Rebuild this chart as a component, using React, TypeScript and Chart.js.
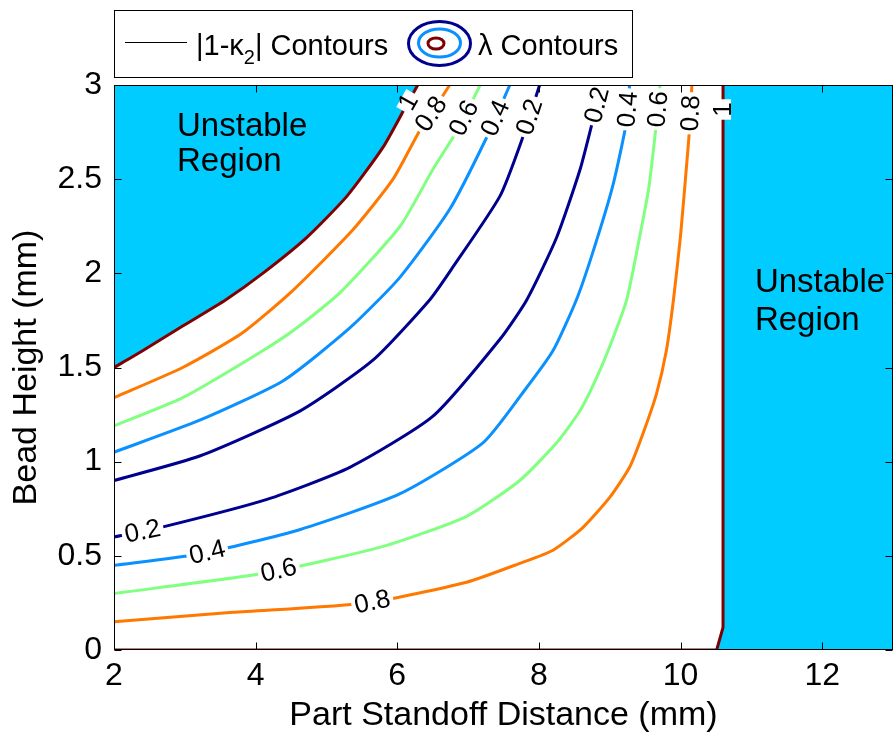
import { useEffect, useRef } from "react";
import { Chart, registerables } from "chart.js";

Chart.register(...registerables);

// ---------- data ----------
const xTickValues = [2, 4, 6, 8, 10, 12];
const yTickValues = [0, 0.5, 1, 1.5, 2, 2.5, 3];

// upper-left branch of each |1-k2| level
const upper10: number[][] = [[2, 1.5], [2.41, 1.59], [2.97, 1.72], [3.58, 1.86], [4.1, 2.0], [4.72, 2.19], [5.29, 2.41], [5.8, 2.67], [6.14, 2.9], [6.29, 3.0]];
const upper08: number[][] = [[2, 1.34], [2.97, 1.5], [3.8, 1.68], [4.5, 1.9], [5.37, 2.23], [5.94, 2.5], [6.32, 2.76], [6.5, 2.86], [6.74, 3.0]];
const upper06: number[][] = [[2, 1.19], [2.97, 1.34], [4.06, 1.58], [4.58, 1.71], [5.2, 1.9], [6.04, 2.25], [6.5, 2.55], [6.88, 2.78], [7.17, 3.0]];
const upper04: number[][] = [[2, 1.05], [3.21, 1.22], [4.39, 1.43], [5.33, 1.71], [6.04, 1.98], [6.74, 2.34], [7.26, 2.72], [7.59, 3.0]];
const upper02: number[][] = [[2, 0.9], [3.21, 1.03], [4.63, 1.27], [5.66, 1.54], [6.46, 1.86], [6.78, 2.03], [7.45, 2.41], [7.77, 2.72], [8.01, 3.0]];

// lower-right branch of each level
const lower02: number[][] = [[2, 0.6], [2.65, 0.65], [4.16, 0.8], [5.33, 0.97], [6.5, 1.24], [7.45, 1.65], [7.83, 1.86], [8.25, 2.19], [8.58, 2.55], [8.76, 2.81], [8.89, 3.0]];
const lower04: number[][] = [[2, 0.45], [3.21, 0.51], [4.63, 0.64], [6.04, 0.83], [7.21, 1.1], [7.78, 1.37], [8.2, 1.59], [8.53, 1.86], [8.76, 2.11], [9.04, 2.46], [9.24, 2.81], [9.28, 3.0]];
const lower06: number[][] = [[2, 0.3], [4.16, 0.41], [5.8, 0.55], [6.98, 0.71], [7.73, 0.9], [8.25, 1.1], [8.58, 1.27], [8.82, 1.45], [9.04, 1.65], [9.24, 1.86], [9.4, 2.15], [9.55, 2.45], [9.66, 2.8], [9.71, 3.0]];
const lower08: number[][] = [[2, 0.15], [3.68, 0.2], [5.57, 0.25], [6.98, 0.36], [7.73, 0.46], [8.2, 0.53], [8.62, 0.65], [9.0, 0.81], [9.28, 0.97], [9.47, 1.15], [9.66, 1.36], [9.8, 1.59], [9.9, 1.86], [10.0, 2.2], [10.08, 2.55], [10.13, 2.78], [10.16, 3.0]];
const lower10: number[][] = [[2, 0], [10.51, 0], [10.6, 0.12], [10.6, 3.0]];

// right unstable region outline
const rightRegion: number[][] = [[10.51, 0], [10.6, 0.12], [10.6, 3.0], [13, 3.0]];

// contour labels
const labelCurves = ["upper10", "upper08", "upper06", "upper04", "upper02", "lower02", "lower04", "lower06", "lower08", "lower10", "lower02", "lower04", "lower06", "lower08"];
const labelX = [6.18, 6.5, 6.91, 7.35, 7.87, 8.86, 9.28, 9.73, 10.13, 10.6, 2.41, 3.31, 4.34, 5.64];
const labelY = [2.905, 2.84, 2.83, 2.83, 2.83, 2.89, 2.87, 2.87, 2.85, 2.87, 0.62, 0.53, 0.4, 0.27];
const labelText = ["1", "0.8", "0.6", "0.4", "0.2", "0.2", "0.4", "0.6", "0.8", "1", "0.2", "0.4", "0.6", "0.8"];

// region annotations
const regionText = ["Unstable", "Region"];
const leftRegionAt = [2.89, 2.78, 2.59];
const rightRegionAt = [11.05, 1.95, 1.75];

// ---------- styles ----------
const FONT = '"Liberation Sans", Arial, Helvetica, sans-serif';
const CYAN = "#00CCFF";
const TENSION = 0.2;
const colors: Record<string, string> = {
  "10": "#7F0000",
  "08": "#FF7800",
  "06": "#80FF80",
  "04": "#0A90FF",
  "02": "#00008F",
};

const curves: Record<string, number[][]> = { upper10, upper08, upper06, upper04, upper02, lower02, lower04, lower06, lower08, lower10 };

const toXY = (pts: number[][]) => pts.map(([x, y]) => ({ x, y }));

function lineDataset(name: string) {
  const key = name.slice(5);
  return {
    label: name,
    data: toXY(curves[name]),
    showLine: true,
    borderColor: colors[key],
    borderWidth: 3,
    pointRadius: 0,
    fill: false,
    tension: name === "lower10" ? 0 : TENSION,
    clip: 0,
  };
}

const contourLabelPlugin = {
  id: "contourLabels",
  afterDatasetsDraw(chart: any) {
    const { ctx, scales } = chart;
    const xs = scales.x, ys = scales.y;
    ctx.save();
    ctx.font = `26px ${FONT}`;
    for (let i = 0; i < labelText.length; i++) {
      const pts = curves[labelCurves[i]].map(([a, b]) => [xs.getPixelForValue(a), ys.getPixelForValue(b)]);
      const px = xs.getPixelForValue(labelX[i]);
      const py = ys.getPixelForValue(labelY[i]);
      let best = Infinity, bx = px, by = py, ang = 0;
      for (let k = 0; k < pts.length - 1; k++) {
        const [x1, y1] = pts[k], [x2, y2] = pts[k + 1];
        const dx = x2 - x1, dy = y2 - y1;
        const len2 = dx * dx + dy * dy || 1;
        let t = ((px - x1) * dx + (py - y1) * dy) / len2;
        t = Math.max(0, Math.min(1, t));
        const qx = x1 + t * dx, qy = y1 + t * dy;
        const d = (qx - px) ** 2 + (qy - py) ** 2;
        if (d < best) { best = d; bx = qx; by = qy; ang = Math.atan2(dy, dx); }
      }
      if (ang > Math.PI / 2) ang -= Math.PI;
      if (ang < -Math.PI / 2) ang += Math.PI;
      const w = ctx.measureText(labelText[i]).width;
      ctx.save();
      ctx.translate(bx, by);
      ctx.rotate(ang);
      ctx.fillStyle = "#fff";
      ctx.fillRect(-w / 2 - 3, -8, w + 6, 16);
      ctx.fillStyle = "#000";
      ctx.textAlign = "center";
      ctx.textBaseline = "middle";
      ctx.fillText(labelText[i], 0, 1);
      ctx.restore();
    }
    ctx.restore();
  },
};

const regionTextPlugin = {
  id: "regionText",
  afterDatasetsDraw(chart: any) {
    const { ctx, scales } = chart;
    ctx.save();
    ctx.font = `33px ${FONT}`;
    ctx.fillStyle = "#000";
    ctx.textAlign = "left";
    ctx.textBaseline = "middle";
    for (const at of [leftRegionAt, rightRegionAt]) {
      const x = scales.x.getPixelForValue(at[0]);
      ctx.fillText(regionText[0], x, scales.y.getPixelForValue(at[1]));
      ctx.fillText(regionText[1], x, scales.y.getPixelForValue(at[2]));
    }
    ctx.restore();
  },
};

const axesBoxPlugin = {
  id: "axesBox",
  afterDraw(chart: any) {
    const { ctx, chartArea: a, scales } = chart;
    ctx.save();
    ctx.strokeStyle = "#000";
    ctx.lineWidth = 1;
    const L = Math.round(a.left) + 0.5, R = Math.round(a.right) - 0.5;
    const T = Math.round(a.top) + 0.5, B = Math.round(a.bottom) - 0.5;
    ctx.strokeRect(L, T, R - L, B - T);
    const tl = 7;
    ctx.beginPath();
    for (const v of xTickValues) {
      const px = Math.round(scales.x.getPixelForValue(v)) + 0.5;
      ctx.moveTo(px, B); ctx.lineTo(px, B - tl);
      ctx.moveTo(px, T); ctx.lineTo(px, T + tl);
    }
    for (const v of yTickValues) {
      const py = Math.round(scales.y.getPixelForValue(v)) + 0.5;
      ctx.moveTo(L, py); ctx.lineTo(L + tl, py);
      ctx.moveTo(R, py); ctx.lineTo(R - tl, py);
    }
    ctx.stroke();

    // legend
    ctx.fillStyle = "#fff";
    ctx.fillRect(114, 10, 518, 67);
    ctx.strokeRect(114.5, 10.5, 518, 67);
    ctx.beginPath();
    ctx.moveTo(125, 42.5);
    ctx.lineTo(187, 42.5);
    ctx.stroke();
    ctx.fillStyle = "#000";
    ctx.textBaseline = "alphabetic";
    ctx.textAlign = "left";
    let xx = 196;
    ctx.font = `29px ${FONT}`;
    ctx.fillText("|1-κ", xx, 55);
    xx += ctx.measureText("|1-κ").width;
    ctx.font = `20px ${FONT}`;
    ctx.fillText("2", xx, 64);
    xx += ctx.measureText("2").width;
    ctx.font = `29px ${FONT}`;
    ctx.fillText("| Contours", xx, 55);
    const ell = (cx: number, cy: number, rx: number, ry: number, c: string) => {
      ctx.beginPath();
      ctx.ellipse(cx, cy, rx, ry, 0, 0, Math.PI * 2);
      ctx.strokeStyle = c;
      ctx.lineWidth = 3;
      ctx.stroke();
    };
    ell(439.5, 43.5, 31, 22, colors["02"]);
    ell(439.5, 43, 21, 14, colors["04"]);
    ell(436, 43.5, 8, 5.5, colors["10"]);
    ctx.fillStyle = "#000";
    ctx.font = `29px ${FONT}`;
    ctx.fillText("λ Contours", 478, 55);
    ctx.restore();
  },
};

export default function App() {
  const ref = useRef<HTMLCanvasElement | null>(null);

  useEffect(() => {
    if (!ref.current) return;
    const lineNames = ["upper10", "upper08", "upper06", "upper04", "upper02", "lower02", "lower04", "lower06", "lower08", "lower10"];
    const datasets: any[] = lineNames.map(lineDataset);
    datasets.push({
      label: "leftRegion",
      data: toXY(upper10),
      showLine: true,
      borderWidth: 0,
      pointRadius: 0,
      backgroundColor: CYAN,
      fill: "end",
      tension: TENSION,
      clip: 0,
    });
    datasets.push({
      label: "rightRegion",
      data: toXY(rightRegion),
      showLine: true,
      borderWidth: 0,
      pointRadius: 0,
      backgroundColor: CYAN,
      fill: "start",
      tension: 0,
      clip: 0,
    });

    const tickFont = { size: 32, family: FONT };
    const titleFont = { size: 34, family: FONT };
    const chart = new Chart(ref.current, {
      type: "scatter",
      data: { datasets },
      options: {
        animation: false,
        responsive: false,
        maintainAspectRatio: false,
        layout: { padding: { top: 85, right: 3, left: 0, bottom: 0 } },
        plugins: { legend: { display: false }, tooltip: { enabled: false } },
        scales: {
          x: {
            type: "linear",
            min: 2,
            max: 13,
            grid: { display: false, drawTicks: false, tickLength: 0 },
            border: { display: false },
            ticks: { font: tickFont, color: "#000", padding: 7, maxRotation: 0, autoSkip: false, callback: (v: any) => String(v) },
            title: { display: true, text: "Part Standoff Distance (mm)", font: titleFont, color: "#000", padding: { top: 0, bottom: 0 } },
            afterBuildTicks: (s: any) => { s.ticks = xTickValues.map((v) => ({ value: v })); },
            afterFit: (s: any) => { s.height = 86; },
          },
          y: {
            type: "linear",
            min: 0,
            max: 3,
            grid: { display: false, drawTicks: false, tickLength: 0 },
            border: { display: false },
            ticks: { font: tickFont, color: "#000", padding: 12, autoSkip: false, callback: (v: any) => String(v) },
            title: { display: true, text: "Bead Height (mm)", font: titleFont, color: "#000", padding: { top: 6, bottom: 0 } },
            afterBuildTicks: (s: any) => { s.ticks = yTickValues.map((v) => ({ value: v })); },
            afterFit: (s: any) => { s.width = 114; },
          },
        },
      } as any,
      plugins: [contourLabelPlugin, regionTextPlugin, axesBoxPlugin],
    });
    return () => chart.destroy();
  }, []);

  return (
    <div style={{ position: "absolute", left: 0, top: 0, width: 896, height: 736, background: "#fff" }}>
      <canvas ref={ref} width={896} height={736} style={{ width: 896, height: 736, display: "block" }} />
    </div>
  );
}
